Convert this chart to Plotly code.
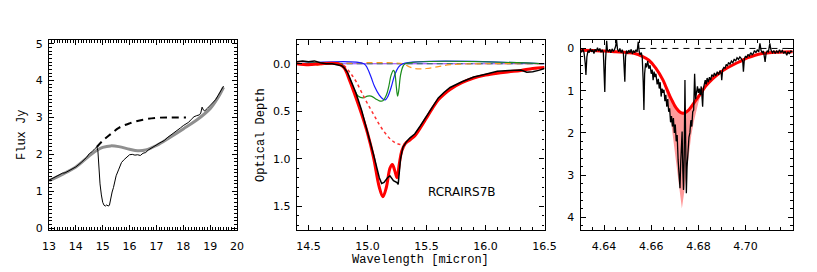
import plotly.graph_objects as go

W, H = 817, 272

# ---------------- Panel 1: flux spectrum ----------------
p1_wave = [13.0, 13.2, 13.4, 13.5, 13.6, 13.8, 14.0, 14.2, 14.4, 14.5, 14.6, 14.7, 14.78, 14.82,
           14.86, 14.9, 14.95, 15.0, 15.05, 15.1, 15.15, 15.2, 15.25, 15.3, 15.35, 15.4, 15.45,
           15.5, 15.6, 15.7, 15.8, 15.9, 16.0, 16.1, 16.2, 16.3, 16.4, 16.5, 16.6, 16.7, 16.8,
           16.9, 17.0, 17.1, 17.2, 17.3, 17.4, 17.5, 17.6, 17.7, 17.8, 17.9, 18.0, 18.1, 18.2,
           18.3, 18.4, 18.5, 18.6, 18.65, 18.7, 18.75, 18.8, 18.9, 19.0, 19.1, 19.2, 19.3, 19.4, 19.5]
p1_flux = [1.30, 1.37, 1.44, 1.49, 1.50, 1.57, 1.66, 1.78, 1.92, 2.02, 2.07, 2.15, 2.20, 2.10,
           1.60, 1.20, 0.90, 0.70, 0.62, 0.60, 0.63, 0.60, 0.62, 0.85, 0.98, 1.10, 1.30,
           1.42, 1.60, 1.78, 1.86, 1.92, 1.99, 2.00, 1.98, 1.99, 1.97, 2.03, 2.05, 2.12, 2.17,
           2.22, 2.27, 2.30, 2.34, 2.38, 2.45, 2.50, 2.55, 2.60, 2.66, 2.72, 2.78, 2.82, 2.87,
           2.95, 3.02, 3.05, 3.07, 3.12, 3.28, 3.20, 3.18, 3.25, 3.33, 3.40, 3.48, 3.60, 3.72, 3.85]
p1_model_wave = [13.0, 13.5, 14.0, 14.5, 14.8, 15.0, 15.3, 15.6, 16.0, 16.3, 16.6, 17.0, 17.5,
                 18.0, 18.5, 19.0, 19.3, 19.5]
p1_model_flux = [1.29, 1.46, 1.66, 1.96, 2.12, 2.19, 2.23, 2.21, 2.14, 2.10, 2.12, 2.24, 2.46,
                 2.69, 2.93, 3.24, 3.55, 3.82]
p1_cont_wave = [14.78, 15.0, 15.3, 15.6, 16.0, 16.5, 17.0, 17.5, 18.1]
p1_cont_flux = [2.20, 2.37, 2.55, 2.72, 2.84, 2.94, 2.99, 3.00, 3.00]

# ---------------- Panel 2: optical depth ----------------
p2_wave = [14.40, 14.45, 14.5, 14.55, 14.6, 14.65, 14.7, 14.75, 14.78, 14.8, 14.83, 14.86, 14.9,
           14.95, 15.0, 15.05, 15.08, 15.1, 15.12, 15.14, 15.17, 15.19, 15.22, 15.25, 15.26,
           15.28, 15.3, 15.33, 15.36, 15.4, 15.45, 15.5, 15.55, 15.6, 15.65, 15.7, 15.8, 15.9,
           16.0, 16.1, 16.2, 16.3, 16.35, 16.4, 16.45, 16.5]
p2_tau = [-0.02, -0.03, -0.02, -0.03, -0.01, 0.0, 0.0, 0.01, 0.02, 0.04, 0.09, 0.18, 0.30,
          0.49, 0.71, 0.95, 1.10, 1.20, 1.26, 1.25, 1.20, 1.18, 1.23, 1.25, 1.27,
          1.00, 0.88, 0.82, 0.78, 0.74, 0.65, 0.55, 0.45, 0.36, 0.30, 0.25, 0.19, 0.14,
          0.11, 0.08, 0.07, 0.065, 0.09, 0.085, 0.07, 0.05]
p2_fit_wave = [14.4, 14.5, 14.6, 14.75, 14.8, 14.85, 14.9, 14.95, 15.0, 15.05, 15.1, 15.13, 15.16,
               15.19, 15.21, 15.23, 15.25, 15.27, 15.29, 15.32, 15.36, 15.4, 15.45, 15.5, 15.55,
               15.6, 15.65, 15.7, 15.8, 15.9, 16.0, 16.1, 16.2, 16.3, 16.4, 16.5]
p2_fit_tau = [0.0, 0.01, 0.0, 0.0, 0.04, 0.18, 0.35, 0.53, 0.73, 0.98, 1.30, 1.40, 1.30,
              1.10, 1.06, 1.12, 1.20, 1.05, 0.92, 0.84, 0.80, 0.76, 0.67, 0.57, 0.47,
              0.38, 0.32, 0.27, 0.20, 0.15, 0.12, 0.10, 0.085, 0.07, 0.05, 0.04]
p2_broad_wave = [14.75, 14.8, 14.85, 14.9, 14.95, 15.0, 15.05, 15.1, 15.15, 15.2, 15.25, 15.3,
                 15.35, 15.4, 15.45, 15.5, 15.6, 15.7, 15.8, 15.9, 16.0, 16.2, 16.5]
p2_broad_tau = [0.0, 0.02, 0.09, 0.18, 0.30, 0.42, 0.53, 0.64, 0.73, 0.80, 0.84, 0.85,
                0.82, 0.76, 0.67, 0.57, 0.38, 0.27, 0.20, 0.15, 0.12, 0.085, 0.04]
p2_blue_wave = [14.4, 14.97, 15.0, 15.03, 15.06, 15.1, 15.13, 15.15, 15.17, 15.2, 15.23, 15.26,
                15.3, 16.5]
p2_blue_tau = [0.0, 0.0, 0.05, 0.14, 0.24, 0.33, 0.37, 0.38, 0.35, 0.25, 0.12, 0.04, 0.0, 0.0]
p2_green_wave = [14.4, 14.78, 14.8, 14.83, 14.86, 14.89, 14.92, 14.96, 15.0, 15.03, 15.07, 15.1,
                 15.13, 15.16, 15.18, 15.2, 15.22, 15.23, 15.245, 15.255, 15.265, 15.28, 15.3,
                 15.32, 16.5]
p2_green_tau = [0.0, 0.0, 0.03, 0.10, 0.20, 0.28, 0.34, 0.36, 0.34, 0.34, 0.37, 0.39,
                0.39, 0.33, 0.24, 0.12, 0.07, 0.09, 0.25, 0.34, 0.28, 0.12, 0.03, 0.0, 0.0]
p2_orange_wave = [14.4, 14.5, 14.55, 14.6, 14.7, 15.3, 15.35, 15.4, 15.5, 15.6, 15.7, 16.0, 16.5]
p2_orange_tau = [0.0, 0.01, 0.02, 0.01, 0.0, 0.0, 0.03, 0.05, 0.05, 0.03, 0.01, 0.0, 0.0]
p2_zero_wave = [14.4, 16.5]
p2_zero_tau = [0.0, 0.0]
p2_label = "RCRAIRS7B"

# ---------------- Panel 3: CO band ----------------
p3_wave = [4.6300, 4.6305, 4.6310, 4.6315, 4.6320, 4.6323, 4.6327, 4.6332, 4.6337, 4.6342,
           4.6347, 4.6352, 4.6357, 4.6362, 4.6367, 4.6372, 4.6377, 4.6382, 4.6387, 4.6392,
           4.6397, 4.6401, 4.6403, 4.6406, 4.6409, 4.6411, 4.6414, 4.6419, 4.6424, 4.6429,
           4.6434, 4.6439, 4.6444, 4.6449, 4.6453, 4.6457, 4.6462, 4.6467, 4.6472, 4.6477,
           4.6482, 4.6486, 4.6488, 4.6491, 4.6495, 4.6500, 4.6505, 4.6510, 4.6515, 4.6520,
           4.6525, 4.6530, 4.6535, 4.6540, 4.6545, 4.6549, 4.6553, 4.6558, 4.6562, 4.6566,
           4.6569, 4.6572, 4.6576, 4.6580, 4.6585, 4.6590, 4.6595, 4.6600, 4.6604, 4.6608,
           4.6612, 4.6616, 4.6620, 4.6625, 4.6630, 4.6634, 4.6638, 4.6642, 4.6646, 4.6650,
           4.6654, 4.6658, 4.6662, 4.6666, 4.6670, 4.6674, 4.6678, 4.6682, 4.6686, 4.6690,
           4.6694, 4.6698, 4.6702, 4.6706, 4.6710, 4.6714, 4.6718, 4.6722, 4.6725, 4.6728,
           4.6731, 4.6734, 4.6737, 4.6740, 4.6743, 4.6746, 4.6749, 4.6752, 4.6756, 4.6760,
           4.6764, 4.6768, 4.6772, 4.6776, 4.6780, 4.6784, 4.6788, 4.6792, 4.6796, 4.6800,
           4.6804, 4.6808, 4.6812, 4.6816, 4.6818, 4.6821, 4.6825, 4.6829, 4.6833, 4.6837,
           4.6842, 4.6847, 4.6852, 4.6857, 4.6863, 4.6868, 4.6874, 4.6880, 4.6886, 4.6892,
           4.6897, 4.6899, 4.6903, 4.6908, 4.6913, 4.6918, 4.6923, 4.6928, 4.6934, 4.6940,
           4.6946, 4.6952, 4.6958, 4.6964, 4.6970, 4.6976, 4.6982, 4.6988, 4.6991, 4.6995,
           4.7000, 4.7005, 4.7010, 4.7016, 4.7022, 4.7028, 4.7033, 4.7038, 4.7044, 4.7050,
           4.7056, 4.7061, 4.7066, 4.7071, 4.7076, 4.7080, 4.7083, 4.7087, 4.7092, 4.7097,
           4.7103, 4.7108, 4.7114, 4.7120, 4.7126, 4.7132, 4.7138, 4.7144, 4.7150, 4.7156,
           4.7162, 4.7168, 4.7175, 4.7180, 4.7186, 4.7192, 4.7200]
p3_tau = [0.05, 0.08, 0.02, 0.10, 0.35, 0.63, 0.20, 0.05, 0.10, 0.00,
          0.08, 0.03, 0.12, 0.02, 0.07, -0.02, 0.06, 0.00, 0.09, 0.03,
          0.10, 0.55, 1.03, 0.30, 0.05, -0.18, 0.04, 0.08, 0.02, 0.10,
          0.01, 0.07, 0.03, -0.05, -0.20, 0.02, 0.08, 0.00, 0.10, 0.03,
          0.12, 0.45, 0.79, 0.20, 0.05, 0.12, 0.04, 0.10, 0.02, 0.13,
          0.05, 0.10, 0.03, 0.08, -0.16, 0.08, 0.15, 0.10, 0.22, 0.80,
          1.46, 0.60, 0.35, 0.45, 0.30, 0.48, 0.40, 0.60, 0.50, 0.75,
          0.55, 0.68, 0.60, 0.85, 0.72, 0.95, 0.80, 1.14, 0.95, 1.05,
          0.98, 1.25, 1.10, 1.38, 1.20, 1.50, 1.42, 1.75, 1.60, 1.85,
          1.65, 2.00, 1.80, 2.20, 2.05, 2.64, 2.90, 3.31, 2.70, 2.10,
          1.97, 2.90, 3.35, 2.50, 0.75, 2.20, 3.43, 2.80, 2.40, 2.10,
          2.00, 1.70, 1.85, 1.50, 1.46, 0.60, 1.20, 1.05, 0.90, 1.05,
          0.95, 1.10, 0.90, 1.20, 1.38, 0.95, 0.80, 0.75, 0.85, 0.70,
          0.80, 0.68, 0.75, 0.62, 0.67, 0.58, 0.65, 0.55, 0.62, 0.52,
          0.60, 0.75, 0.50, 0.45, 0.47, 0.38, 0.42, 0.33, 0.38, 0.30,
          0.34, 0.25, 0.30, 0.22, 0.26, 0.20, 0.24, 0.30, 0.55, 0.25,
          0.18, 0.22, 0.14, 0.18, 0.10, 0.15, 0.12, 0.05, 0.10, 0.03,
          0.08, -0.12, 0.05, 0.10, 0.06, 0.20, 0.32, 0.12, 0.06, 0.08,
          -0.12, 0.04, 0.10, 0.05, 0.12, 0.06, 0.10, 0.03, 0.09, 0.05,
          0.12, 0.07, 0.16, 0.08, 0.13, 0.06, 0.08]
p3_model_wave = [4.630, 4.635, 4.640, 4.645, 4.650, 4.653, 4.656, 4.659, 4.662, 4.665, 4.666,
                 4.667, 4.668, 4.669, 4.670, 4.671, 4.672, 4.673, 4.674, 4.675, 4.676, 4.677,
                 4.678, 4.679, 4.680, 4.681, 4.683, 4.686, 4.689, 4.692, 4.695, 4.698, 4.701,
                 4.704, 4.707, 4.710, 4.714, 4.720]
p3_model_tau = [0.04, 0.05, 0.06, 0.08, 0.10, 0.12, 0.18, 0.28, 0.47, 0.75, 0.88,
                1.01, 1.14, 1.25, 1.36, 1.44, 1.50, 1.53, 1.53, 1.50, 1.45, 1.38,
                1.30, 1.22, 1.14, 1.07, 0.90, 0.72, 0.58, 0.47, 0.38, 0.30, 0.22,
                0.16, 0.12, 0.10, 0.09, 0.08]
p3_deep_tau = [0.04, 0.05, 0.06, 0.08, 0.10, 0.12, 0.18, 0.28, 0.47, 0.75, 0.95,
               1.20, 1.55, 2.00, 2.50, 3.00, 3.45, 3.79, 3.40, 2.90, 2.45, 2.05,
               1.75, 1.50, 1.28, 1.10, 0.90, 0.72, 0.58, 0.47, 0.38, 0.30, 0.22,
               0.16, 0.12, 0.10, 0.09, 0.08]
p3_zero_wave = [4.655, 4.72]
p3_zero_tau = [0.0, 0.0]

# ---------------- figure ----------------
fig = go.Figure()

# panel 1
fig.add_trace(go.Scatter(x=p1_model_wave, y=p1_model_flux, mode="lines", line=dict(color="#8f8f8f", width=3, shape="spline"),
                         xaxis="x", yaxis="y"))
fig.add_trace(go.Scatter(x=p1_wave, y=p1_flux, mode="lines", line=dict(color="black", width=1),
                         xaxis="x", yaxis="y"))
fig.add_trace(go.Scatter(x=p1_cont_wave, y=p1_cont_flux, mode="lines",
                         line=dict(color="black", width=2, dash="7px,5px", shape="spline"), xaxis="x", yaxis="y"))

# panel 2
fig.add_trace(go.Scatter(x=p2_zero_wave, y=p2_zero_tau, mode="lines", line=dict(color="#9933ff", width=1),
                         xaxis="x2", yaxis="y2"))
fig.add_trace(go.Scatter(x=p2_zero_wave, y=p2_zero_tau, mode="lines", line=dict(color="#1a7a5a", width=1.2, dash="6px,4px"),
                         xaxis="x2", yaxis="y2"))
fig.add_trace(go.Scatter(x=p2_orange_wave, y=p2_orange_tau, mode="lines",
                         line=dict(color="#ff9922", width=1.2, dash="6px,4px", shape="spline"), xaxis="x2", yaxis="y2"))
fig.add_trace(go.Scatter(x=p2_blue_wave, y=p2_blue_tau, mode="lines", line=dict(color="#1a1aff", width=1.2, shape="spline"),
                         xaxis="x2", yaxis="y2"))
fig.add_trace(go.Scatter(x=p2_green_wave, y=p2_green_tau, mode="lines", line=dict(color="#1a8c1a", width=1.2, shape="spline"),
                         xaxis="x2", yaxis="y2"))
fig.add_trace(go.Scatter(x=p2_broad_wave, y=p2_broad_tau, mode="lines",
                         line=dict(color="#ff3030", width=1.5, dash="dot", shape="spline"), xaxis="x2", yaxis="y2"))
fig.add_trace(go.Scatter(x=p2_fit_wave, y=p2_fit_tau, mode="lines", line=dict(color="#ff0000", width=3, shape="spline"),
                         xaxis="x2", yaxis="y2"))
fig.add_trace(go.Scatter(x=p2_wave, y=p2_tau, mode="lines", line=dict(color="black", width=1.5),
                         xaxis="x2", yaxis="y2"))

# panel 3
fig.add_trace(go.Scatter(x=p3_model_wave + p3_model_wave[::-1], y=p3_deep_tau + p3_model_tau[::-1],
                         mode="lines", fill="toself", fillcolor="#ff9a9a", line=dict(width=0, color="#ff9a9a"),
                         xaxis="x3", yaxis="y3"))
fig.add_trace(go.Scatter(x=p3_zero_wave, y=p3_zero_tau, mode="lines", line=dict(color="black", width=1, dash="6px,5px"),
                         xaxis="x3", yaxis="y3"))
fig.add_trace(go.Scatter(x=p3_model_wave, y=p3_model_tau, mode="lines", line=dict(color="#ff0000", width=3, shape="spline"),
                         xaxis="x3", yaxis="y3"))
fig.add_trace(go.Scatter(x=p3_wave, y=p3_tau, mode="lines", line=dict(color="black", width=1.3),
                         xaxis="x3", yaxis="y3"))

ytop, ybot = 1 - 40 / H, 1 - 230 / H
tickfont = dict(family="DejaVu Sans", size=11, color="black")


def ax(domain, rng, tickvals, fmt, minor_dtick, anchor, xa=True):
    d = dict(domain=domain, range=rng, tickmode="array", tickvals=tickvals,
             ticktext=[fmt.format(v) for v in tickvals],
             ticks="inside", ticklen=5, tickwidth=1, tickcolor="black",
             showline=True, linecolor="black", linewidth=1.2, mirror="allticks",
             showgrid=False, zeroline=False, tickfont=tickfont, anchor=anchor,
             automargin=False,
             minor=dict(ticks="inside", ticklen=2.5, tickwidth=1, tickcolor="black",
                        dtick=minor_dtick, tick0=0, showgrid=False),
             ticklabelstandoff=6 if xa else 3)
    return d


layout = dict(
    width=W, height=H, margin=dict(l=0, r=0, t=0, b=0, pad=0), autosize=False,
    paper_bgcolor="white", plot_bgcolor="white", showlegend=False,
    xaxis=ax([49 / W, 237 / W], [13, 20], [13, 14, 15, 16, 17, 18, 19, 20], "{:.0f}", 0.1, "y"),
    yaxis=ax([ybot, ytop], [-0.05, 5.1], [0, 1, 2, 3, 4, 5], "{:.0f}", 0.1, "x", xa=False),
    xaxis2=ax([296.7 / W, 544.5 / W], [14.4, 16.5], [14.5, 15.0, 15.5, 16.0, 16.5], "{:.1f}", 0.1, "y2"),
    yaxis2=ax([ybot, ytop], [1.75, -0.25], [0.0, 0.5, 1.0, 1.5], "{:.1f}", 0.1, "x2", xa=False),
    xaxis3=ax([580.5 / W, 792.7 / W], [4.63, 4.72], [4.64, 4.66, 4.68, 4.70], "{:.2f}", 0.005, "y3"),
    yaxis3=ax([ybot, ytop], [4.3, -0.2], [0, 1, 2, 3, 4], "{:.0f}", 0.2, "x3", xa=False),
)
fig.update_layout(**layout)

titlefont = dict(family="Liberation Mono", size=12, color="black")
common = dict(xref="paper", yref="paper", showarrow=False, font=titlefont, xanchor="center", yanchor="middle")
fig.add_annotation(x=22 / W, y=1 - 135 / H, text="Flux Jy", textangle=-90, **common)
fig.add_annotation(x=261 / W, y=1 - 135 / H, text="Optical Depth", textangle=-90, **common)
fig.add_annotation(x=420.6 / W, y=1 - 259.5 / H, text="Wavelength [micron]", **common)
fig.add_annotation(x=15.8, y=1.35, xref="x2", yref="y2", text=p2_label, showarrow=False,
                   xanchor="center", yanchor="middle",
                   font=dict(family="DejaVu Sans", size=12, color="black"))

fig.write_html("out.html", config={"displayModeBar": False},
               post_script="document.body.style.margin='0';document.body.style.overflow='hidden';")
